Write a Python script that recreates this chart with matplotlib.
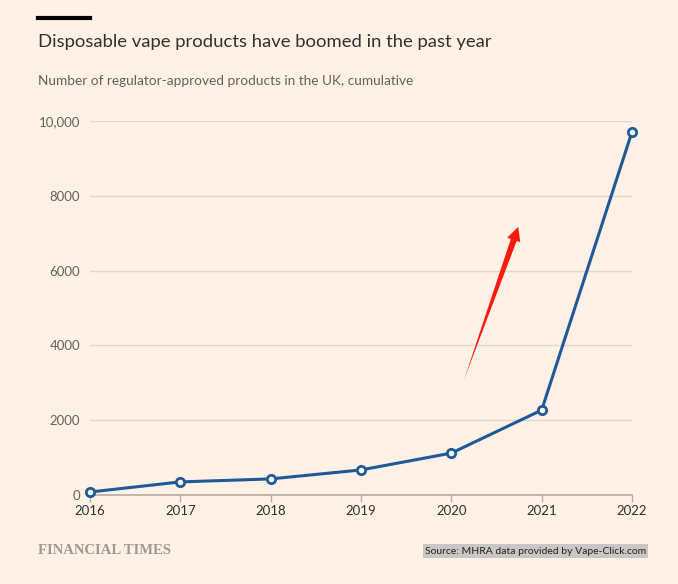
import matplotlib.pyplot as plt
from matplotlib.lines import Line2D

# data
years = [2016, 2017, 2018, 2019, 2020, 2021, 2022]
products = [80, 350, 430, 670, 1120, 2270, 9710]
yticks = [0, 2000, 4000, 6000, 8000, 10000]
ytick_labels = ["0", "2000", "4000", "6000", "8000", "10,000"]

bg = "#fff1e5"
blue = "#1f5a96"
red = "#ff1a0d"

plt.rcParams['font.family'] = ['Lato', 'DejaVu Sans']

fig = plt.figure(figsize=(6.78, 5.84), dpi=100, facecolor=bg)
ax = fig.add_axes([90/678, 1 - 495/584, 542/678, 374/584])
ax.set_facecolor(bg)

ax.plot(years, products, color=blue, linewidth=2.2, marker="o", markersize=6,
        markerfacecolor="white", markeredgecolor=blue, markeredgewidth=2,
        clip_on=False, zorder=3)

ax.set_xlim(2016, 2022)
ax.set_ylim(0, 10000)
ax.set_xticks(years)
ax.set_xticklabels([str(y) for y in years])
ax.set_yticks(yticks)
ax.set_yticklabels(ytick_labels)
ax.grid(axis="y", color="#e3d6ca", linewidth=1)
ax.set_axisbelow(True)
for s in ["top", "right", "left"]:
    ax.spines[s].set_visible(False)
ax.spines["bottom"].set_color("#b5aca3")
ax.spines["bottom"].set_linewidth(1.2)
ax.tick_params(axis="y", length=0, pad=7, labelsize=9.5, labelcolor="#66605c")
ax.tick_params(axis="x", length=5, width=1, color="#b5aca3", pad=2,
               labelsize=9.5, labelcolor="#33302e")

# red arrow: tapered body plus head
ax.annotate("", xy=(2020.14, 3075), xytext=(2020.70, 6880),
            arrowprops=dict(arrowstyle="wedge,tail_width=0.45,shrink_factor=0.5",
                            color=red, lw=0, shrinkA=0, shrinkB=0))
ax.annotate("", xy=(2020.74, 7170), xytext=(2020.66, 6600),
            arrowprops=dict(arrowstyle="simple,head_length=1.0,head_width=1.0,tail_width=0.3",
                            color=red, lw=0, shrinkA=0, shrinkB=0))

# header
fig.add_artist(Line2D([38/678, 90/678], [1 - 18/584, 1 - 18/584], color="black", linewidth=3))
fig.text(38/678, 1 - 42/584, "Disposable vape products have boomed in the past year",
         fontsize=13.3, color="#33302e", va="center", ha="left")
fig.text(38/678, 1 - 81/584, "Number of regulator-approved products in the UK, cumulative",
         fontsize=9.8, color="#66605c", va="center", ha="left")

# footer
fig.text(38/678, 1 - 551/584, "FINANCIAL TIMES", fontsize=10.5, color="#9e9893",
         family="Liberation Serif", fontweight="bold", va="center", ha="left")
fig.text(646/678, 1 - 551/584, "Source: MHRA data provided by Vape-Click.com",
         fontsize=7.5, color="#222222", va="center", ha="right",
         bbox=dict(facecolor="#c9c6c3", edgecolor="none", pad=1.5))

fig.savefig("out.png", dpi=100, facecolor=bg)
